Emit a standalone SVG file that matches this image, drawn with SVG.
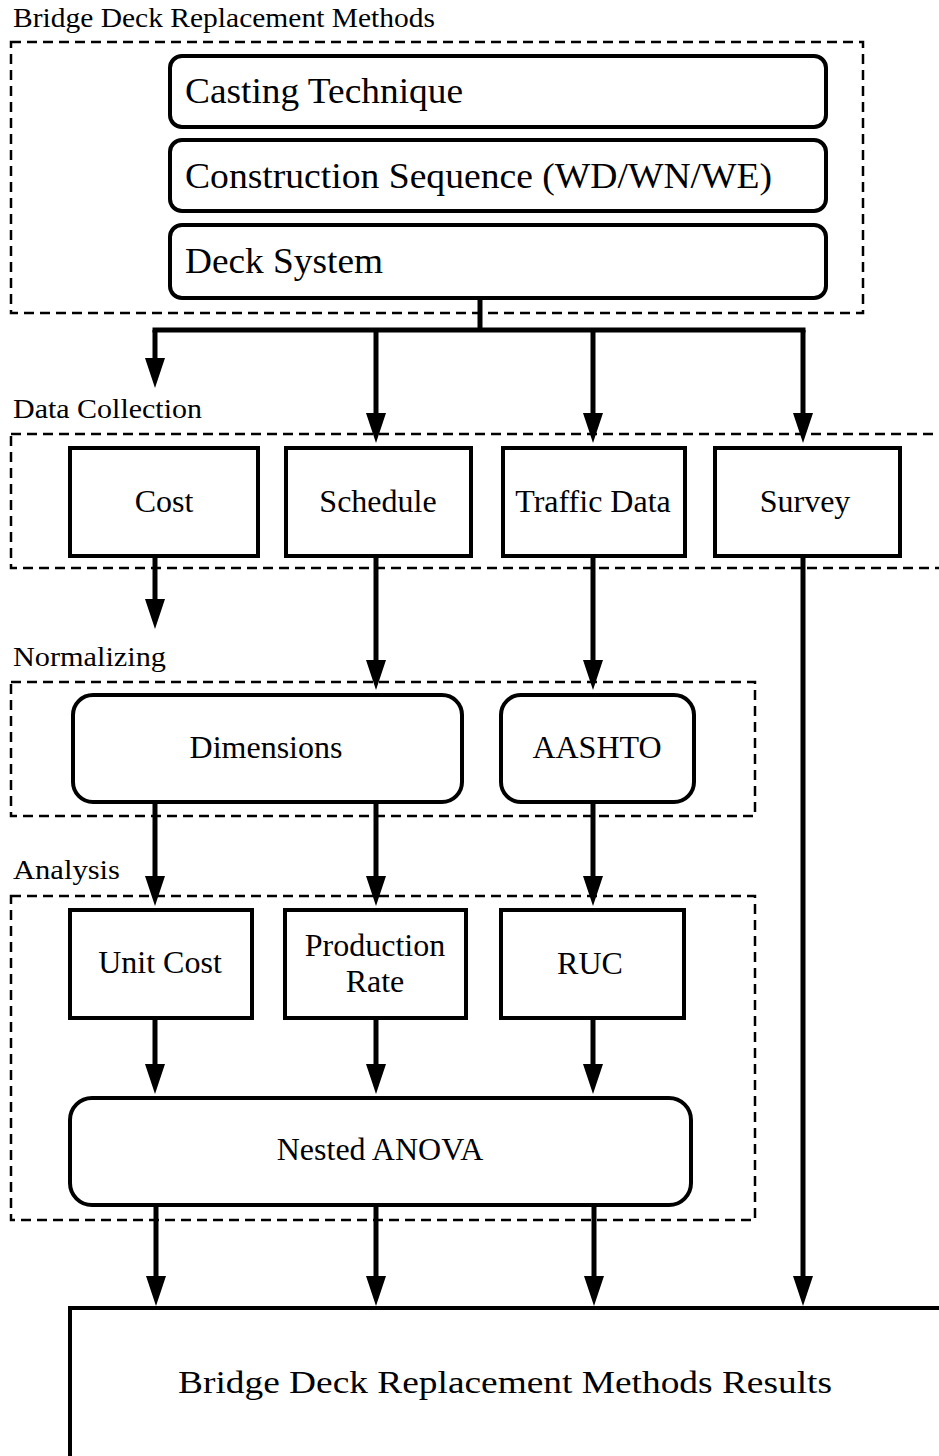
<svg xmlns="http://www.w3.org/2000/svg" width="939" height="1456" viewBox="0 0 939 1456">
  <style>
    .grp { fill: none; stroke: #000; stroke-width: 2.5; stroke-dasharray: 10 6; }
    .box { fill: #fff; stroke: #000; stroke-width: 4; }
    .wire { fill: none; stroke: #000; stroke-width: 5; }
    .arr { fill: none; stroke: #000; stroke-width: 5; marker-end: url(#head); }
  </style>
  <defs>
    <marker id="head" markerUnits="userSpaceOnUse" markerWidth="30" markerHeight="20" refX="15" refY="10" orient="auto">
      <path d="M0,0 L30,10 L0,20 Z" fill="#000"/>
    </marker>
  </defs>
  <rect width="939" height="1456" fill="#fff"/>

  <g font-family="Liberation Serif, Tinos, Times New Roman, DejaVu Serif, serif" fill="#000">

  <!-- stage frames -->
  <g id="frame-methods">
    <rect class="grp" x="11" y="42" width="852" height="271"/>
    <text font-size="28" x="13" y="27" textLength="422" lengthAdjust="spacingAndGlyphs">Bridge Deck Replacement Methods</text>
  </g>
  <g id="frame-data">
    <rect class="grp" x="11" y="434" width="960" height="134"/>
    <text font-size="28" x="13" y="418" textLength="189" lengthAdjust="spacingAndGlyphs">Data Collection</text>
  </g>
  <g id="frame-normalizing">
    <rect class="grp" x="11" y="682" width="744" height="134"/>
    <text font-size="28" x="13" y="666" textLength="153" lengthAdjust="spacingAndGlyphs">Normalizing</text>
  </g>
  <g id="frame-analysis">
    <rect class="grp" x="11" y="896" width="744" height="324"/>
    <text font-size="28" x="13" y="879" textLength="107" lengthAdjust="spacingAndGlyphs">Analysis</text>
  </g>

  <!-- connectors -->
  <g id="connectors">
    <path class="wire" d="M480,298 V330"/>
    <path class="wire" d="M152.5,330 H805.5"/>
    <path class="arr" d="M155,330 V373"/>
    <path class="arr" d="M376,330 V428"/>
    <path class="arr" d="M593,330 V428"/>
    <path class="arr" d="M803,330 V428"/>
    <path class="arr" d="M155,558 V614"/>
    <path class="arr" d="M376,558 V675"/>
    <path class="arr" d="M593,558 V675"/>
    <path class="arr" d="M803,558 V1291"/>
    <path class="arr" d="M155,804 V891"/>
    <path class="arr" d="M376,804 V891"/>
    <path class="arr" d="M593,804 V891"/>
    <path class="arr" d="M155,1020 V1079"/>
    <path class="arr" d="M376,1020 V1079"/>
    <path class="arr" d="M593,1020 V1079"/>
    <path class="arr" d="M156,1207 V1291"/>
    <path class="arr" d="M376,1207 V1291"/>
    <path class="arr" d="M594,1207 V1291"/>
  </g>

  <!-- method factors -->
  <g id="casting-technique">
    <rect class="box" x="170" y="56" width="656" height="71" rx="12"/>
    <text font-size="36" x="185" y="103" textLength="278" lengthAdjust="spacingAndGlyphs">Casting Technique</text>
  </g>
  <g id="construction-sequence">
    <rect class="box" x="170" y="140" width="656" height="71" rx="12"/>
    <text font-size="36" x="185" y="188" textLength="587" lengthAdjust="spacingAndGlyphs">Construction Sequence (WD/WN/WE)</text>
  </g>
  <g id="deck-system">
    <rect class="box" x="170" y="225" width="656" height="73" rx="12"/>
    <text font-size="36" x="185" y="273" textLength="198" lengthAdjust="spacingAndGlyphs">Deck System</text>
  </g>

  <!-- data collection -->
  <g font-size="32" text-anchor="middle">
  <g id="cost">
    <rect class="box" x="70" y="448" width="188" height="108"/>
    <text x="164" y="512">Cost</text>
  </g>
  <g id="schedule">
    <rect class="box" x="286" y="448" width="185" height="108"/>
    <text x="378" y="512">Schedule</text>
  </g>
  <g id="traffic-data">
    <rect class="box" x="503" y="448" width="182" height="108"/>
    <text x="593" y="512">Traffic Data</text>
  </g>
  <g id="survey">
    <rect class="box" x="715" y="448" width="185" height="108"/>
    <text x="805" y="512">Survey</text>
  </g>

  <!-- normalizing -->
  <g id="dimensions">
    <rect class="box" x="73" y="695" width="389" height="107" rx="20"/>
    <text x="266" y="758">Dimensions</text>
  </g>
  <g id="aashto">
    <rect class="box" x="501" y="695" width="193" height="107" rx="20"/>
    <text x="597" y="758">AASHTO</text>
  </g>

  <!-- analysis -->
  <g id="unit-cost">
    <rect class="box" x="70" y="910" width="182" height="108"/>
    <text x="160" y="973">Unit Cost</text>
  </g>
  <g id="production-rate">
    <rect class="box" x="285" y="910" width="181" height="108"/>
    <text x="375" y="956">Production</text>
    <text x="375" y="992">Rate</text>
  </g>
  <g id="ruc">
    <rect class="box" x="501" y="910" width="183" height="108"/>
    <text x="590" y="974">RUC</text>
  </g>
  <g id="nested-anova">
    <rect class="box" x="70" y="1098" width="621" height="107" rx="22"/>
    <text x="380" y="1160">Nested ANOVA</text>
  </g>
  </g>

  <!-- results -->
  <g id="results">
    <rect class="box" x="70" y="1308" width="900" height="200"/>
    <text font-size="32" x="178" y="1393" textLength="654" lengthAdjust="spacingAndGlyphs">Bridge Deck Replacement Methods Results</text>
  </g>

  </g>
</svg>
